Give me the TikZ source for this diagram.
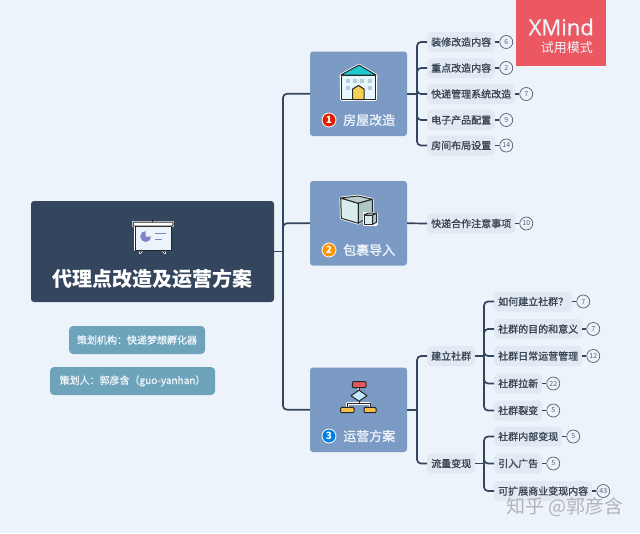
\documentclass[tikz,border=0pt]{standalone}
\usepackage{fontspec}
\setmainfont{Noto Sans CJK SC}
\newfontfamily\medfont[FakeBold=1.2]{Noto Sans CJK SC}
\newfontfamily\logofont[FakeBold=0.8]{Open Sans}
\usetikzlibrary{positioning,calc}
\definecolor{paper}{RGB}{237,243,250}
\definecolor{slate}{RGB}{52,70,94}
\definecolor{topicblue}{RGB}{123,154,196}
\definecolor{notecol}{RGB}{110,163,188}
\definecolor{pillcol}{RGB}{227,233,242}
\definecolor{inkcol}{RGB}{58,70,86}
\definecolor{logored}{RGB}{236,88,98}
\definecolor{roofcol}{RGB}{34,200,205}
\definecolor{doorcol}{RGB}{246,207,87}
\definecolor{boxorange}{RGB}{244,190,74}
\definecolor{boxred}{RGB}{226,88,92}
\tikzset{
  rootbox/.style={fill=slate,rounded corners=3pt,minimum width=243pt,minimum height=101pt,inner sep=0pt},
  notebox/.style={fill=notecol,rounded corners=4pt,minimum height=28pt,inner sep=0pt,text=paper,font=\medfont\fontsize{10}{12}\selectfont},
  topicbox/.style={fill=topicblue,rounded corners=3pt,minimum width=97pt,minimum height=84.5pt,inner sep=0pt},
  topictext/.style={text=paper,font=\medfont\fontsize{13}{15}\selectfont,anchor=west,inner sep=0pt},
  numdot/.style={circle,draw=white,line width=0.8pt,minimum size=14pt,inner sep=0pt,text=white,font=\fontsize{10}{10}\selectfont\bfseries},
  leaf/.style={fill=pillcol,rounded corners=4pt,minimum height=20pt,inner xsep=4pt,inner ysep=0pt,anchor=west,text=inkcol,font=\medfont\fontsize{10}{12}\selectfont},
  badge/.style={circle,draw=inkcol!85,fill=paper,line width=0.7pt,minimum size=13pt,inner sep=0pt,text=inkcol!85,font=\fontsize{7}{7}\selectfont},
  branch/.style={draw=slate,line width=1.7pt,rounded corners=4pt},
  stub/.style={draw=slate,line width=1.1pt},
  icon/.style={draw=black!85,line width=1pt,line join=round},
  halo/.style={draw=white,fill=white,line width=2.6pt,line join=round},
}
\begin{document}
\begin{tikzpicture}[x=1pt,y=-1pt]
\useasboundingbox[fill=paper](0,0)rectangle(640,533);
% logo
\fill[logored](516,0)rectangle(606,66);
\node[text=paper,font=\logofont\fontsize{22}{24}\selectfont,anchor=east,inner sep=0pt] (logo) at (594,27) {XMind};
\node[text=paper,font=\fontsize{13}{15}\selectfont,anchor=east,inner sep=0pt] (trial) at (593,48) {试用模式};
% root and notes
\node[rootbox] (root) at (152.5,251.5) {};
\node[text=white,font=\fontsize{20}{24}\selectfont\bfseries,inner sep=0pt] (title) at (152.5,279) {代理点改造及运营方案};
\node[notebox,minimum width=136pt] (noteA) at (137,340) {策划机构^^^^ff1a快递梦想孵化器};
\node[notebox,minimum width=165pt] (noteB) at (132.5,381) {策划人^^^^ff1a郭彦含^^^^ff08guo-yanhan^^^^ff09};
% topics
\node[topicbox] (house) at (358.5,93.75) {};
\node[topicbox] (parcel) at (358.5,223.25) {};
\node[topicbox] (plan) at (358.5,409.75) {};
\node[numdot,fill=red!75!orange!90!black] (dotA) at (329,120) {1};
\node[numdot,fill=orange!85!yellow] (dotB) at (329,250) {2};
\node[numdot,fill=blue!45!cyan!90!black] (dotC) at (329,436) {3};
\node[topictext] (houseT) at (343,120) {房屋改造};
\node[topictext] (parcelT) at (343,250) {包裹导入};
\node[topictext] (planT) at (343,436) {运营方案};
% trunk
\coordinate (hub) at (283,251.5);
\draw[branch](root.east)--(hub);
\foreach \nm in {house,parcel,plan}
\draw[branch](hub)|-(\nm.west);
% first column
\foreach \nm/\yy/\txt/\num in {a/42/装修改造内容/6,b/68/重点改造内容/2,c/94/快递管理系统改造/7,d/120/电子产品配置/9,e/145.5/房间布局设置/14,f/223.5/快递合作注意事项/10} {
\node[leaf] (\nm) at (427,\yy) {\txt};
\node[badge,right=4pt of \nm] (\nm b) {\num};
\draw[stub](\nm)--(\nm b);}
\coordinate (hubA) at (417,93.75);
\draw[branch](house.east)--(hubA);
\foreach \nm in {a,b,c,d,e}
\draw[branch](hubA)|-(\nm.west);
\draw[branch](parcel.east)--(f.west);
\node[leaf] (group) at (427,356) {建立社群};
\node[leaf] (money) at (427,463.5) {流量变现};
\coordinate (hubB) at (417,409.75);
\draw[branch](plan.east)--(hubB);
\foreach \nm in {group,money}
\draw[branch](hubB)|-(\nm.west);
% second column
\foreach \nm/\yy/\txt/\num in {g/301.5/如何建立社群^^^^ff1f/7,h/329/社群的目的和意义/7,i/356/社群日常运营管理/12,j/383.5/社群拉新/22,k/410.5/社群裂变/5,l/436.5/社群内部变现/5,m/463.5/引入广告/5,n/491/可扩展商业变现内容/43} {
\node[leaf] (\nm) at (494,\yy) {\txt};
\node[badge,right=4pt of \nm] (\nm b) {\num};
\draw[stub](\nm)--(\nm b);}
\coordinate (hubC) at (484,356);
\coordinate (hubD) at (484,463.5);
\draw[branch](group.east)--(hubC);
\draw[branch](money.east)--(hubD);
\foreach \nm in {g,h,i,j,k}
\draw[branch](hubC)|-(\nm.west);
\foreach \nm in {l,m,n}
\draw[branch](hubD)|-(\nm.west);
% board icon
\draw[halo](135,226)rectangle(171,250);
\draw[halo](133,222)rectangle(173,226);
\draw[icon,draw=white,line width=2.4pt,line cap=round](142,250)--(140,253);
\draw[icon,draw=white,line width=2.4pt,line cap=round](163,250)--(165,253);
\draw[icon,fill=paper](135,226)rectangle(171,250);
\draw[icon,fill=white,rounded corners=1pt](133,222)rectangle(173,226);
\draw[icon](152.3,219)--(152.3,222);
\draw[icon](142,250)--(140,253);
\draw[icon](163,250)--(165,253);
\fill[blue!40!gray!70](145.7,236.5)--(145.7,231)arc[start angle=90,end angle=360,radius=5.5pt]--cycle;
\fill[blue!40!gray!70](155,233)rectangle(165.5,234.2);
\fill[blue!40!gray!70](155,238.5)rectangle(161.5,239.7);
% house icon
\draw[halo](341,75)--(359,65)--(376,75)--(375.5,99.5)--(341.5,99.5)--cycle;
\draw[icon,fill=white!90!cyan](341.5,75)rectangle(375.5,99.5);
\draw[icon,fill=roofcol](341,75)--(359,65)--(376,75)--cycle;
\foreach \xx in {347.7,355,362.3,369.7}
\fill[cyan!30!gray!50](\xx-2,79)rectangle(\xx+2,83);
\foreach \xx in {347.7,369.7}
\fill[cyan!30!gray!50](\xx-2,86)rectangle(\xx+2,90);
\draw[icon,fill=doorcol](352.7,99.5)--(352.7,89)--(358.5,85.5)--(364,89)--(364,99.5)--cycle;
% parcel icon
\draw[halo](340.7,198)--(358,196)--(372.3,199.3)--(372.3,213)--(358.3,223.3)--(341.3,218.3)--cycle;
\draw[icon,fill=white!85!teal](340.7,198)--(358.3,203.3)--(358.3,223.3)--(341.3,218.3)--cycle;
\draw[icon,fill=teal!25!gray!40](340.7,198)--(358,196)--(372.3,199.3)--(358.3,203.3)--cycle;
\draw[icon,fill=teal!40!gray!45](358.3,203.3)--(372.3,199.3)--(372.3,215)--(358.3,223.3)--cycle;
\draw[halo](364,213)rectangle(376.7,224.5);
\draw[icon,fill=white!85!teal](364,215)rectangle(372.5,224.5);
\draw[icon,fill=teal!40!gray!45](372.5,215)--(376.7,213)--(376.7,222)--(372.5,224.5)--cycle;
\draw[icon,fill=white!85!teal](364,215)--(368,213)--(376.7,213)--(372.5,215)--cycle;
% flow icon
\draw[halo](359,387.7)--(359,403.3);
\draw[halo,fill=none](347.3,407.3)--(347.3,403.3)-|(370,407.3);
\draw[icon](359,387.7)--(359,403.3);
\draw[icon](347.3,407.3)--(347.3,403.3)-|(370,407.3);
\draw[icon,fill=boxred,rounded corners=1pt](352.3,381.7)rectangle(366,387.7);
\draw[icon,fill=cyan!25](351,395.7)--(359,390.2)--(367,395.7)--(359,401.2)--cycle;
\draw[icon,fill=boxorange,rounded corners=1pt](340.7,407.3)rectangle(354,412.7);
\draw[icon,fill=boxorange,rounded corners=1pt](364,407.3)rectangle(376,412.7);
% watermark
\node[text=gray!55!paper,font=\fontsize{19}{21}\selectfont,anchor=east,inner sep=0pt] (mark) at (624,507) {知乎 @郭彦含};
\end{tikzpicture}
\end{document}
